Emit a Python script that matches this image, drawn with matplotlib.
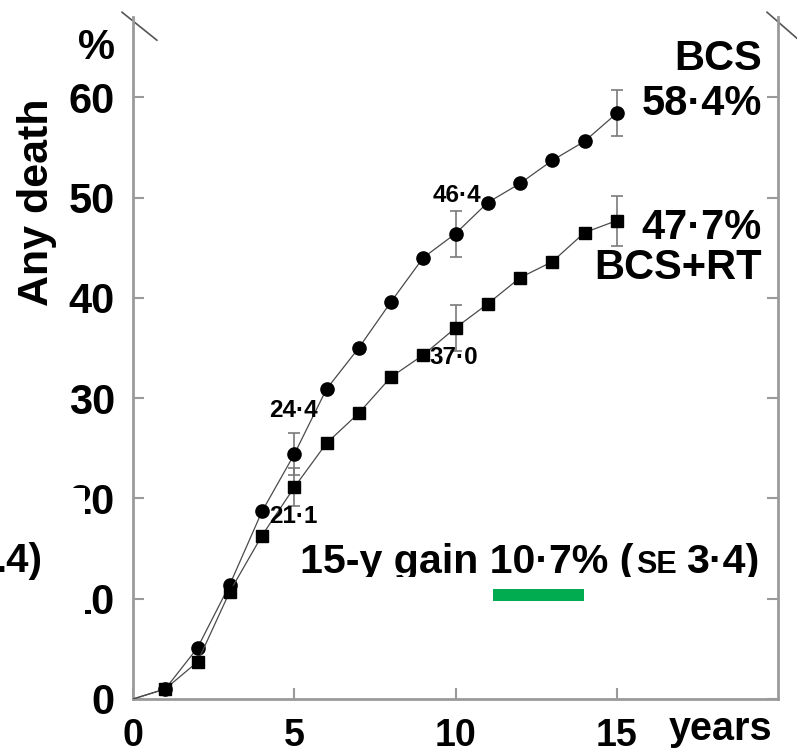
#!/usr/bin/env python3
"""Any death after BCS vs BCS+RT, 15-year curves."""

import matplotlib
matplotlib.use('Agg')
import matplotlib.pyplot as plt
from matplotlib.patches import Rectangle
from matplotlib.lines import Line2D

plt.rcParams['font.family'] = ['Liberation Sans', 'DejaVu Sans']
plt.rcParams['font.weight'] = 'bold'

# ---- data ----
years = [0, 1, 2, 3, 4, 5, 6, 7, 8, 9, 10, 11, 12, 13, 14, 15]
bcs = [0, 1.0, 5.1, 11.4, 18.7, 24.4, 30.9, 35.0, 39.6, 44.0, 46.4,
       49.5, 51.4, 53.7, 55.6, 58.4]
bcs_rt = [0, 1.0, 3.7, 10.7, 16.3, 21.1, 25.5, 28.5, 32.1, 34.3, 37.0,
          39.4, 42.0, 43.6, 46.5, 47.7]

err_years = [5, 10, 15]
bcs_err = [2.1, 2.3, 2.3]
bcs_rt_err = [1.9, 2.3, 2.5]
bcs_at = [bcs[years.index(y)] for y in err_years]
rt_at = [bcs_rt[years.index(y)] for y in err_years]

xticks = [0, 5, 10, 15]
yticks = [0, 10, 20, 30, 40, 50, 60]

linecol = '#4a4a4a'
errcol = '#7a7a7a'
spinecol = '#9a9a9a'

W, H = 797, 755
fig = plt.figure(figsize=(W / 100, H / 100), dpi=100)
ax = fig.add_axes([133 / W, 56 / H, 645 / W, 682 / H])
ax.set_xlim(0, 20)
ax.set_ylim(0, 68)

# curves
ax.plot(years, bcs, color=linecol, lw=0.9, marker='o', ms=9.5,
        mfc='black', mec='black', markevery=list(range(1, len(years))), zorder=3)
ax.plot(years, bcs_rt, color=linecol, lw=0.9, marker='s', ms=8.5,
        mfc='black', mec='black', markevery=list(range(1, len(years))), zorder=3)
ax.errorbar(err_years, bcs_at, yerr=bcs_err, fmt='none', ecolor=errcol,
            elinewidth=1.2, capsize=4, capthick=1.2, zorder=2)
ax.errorbar(err_years, rt_at, yerr=bcs_rt_err, fmt='none', ecolor=errcol,
            elinewidth=1.2, capsize=4, capthick=1.2, zorder=2)

# point labels
ax.text(10.8, 50.2, '46·4', fontsize=17.5, ha='right', va='center')
ax.text(9.2, 34.0, '37·0', fontsize=17.5, ha='left', va='center')
ax.text(4.22, 28.8, '24·4', fontsize=17.5, ha='left', va='center')
ax.text(4.22, 18.2, '21·1', fontsize=17.5, ha='left', va='center')

# end labels
ax.text(19.5, 63.8, 'BCS', fontsize=30, ha='right', va='center')
ax.text(19.5, 59.3, '58·4%', fontsize=30, ha='right', va='center')
ax.text(19.5, 47.0, '47·7%', fontsize=30, ha='right', va='center')
ax.text(19.5, 43.0, 'BCS+RT', fontsize=30, ha='right', va='center')

# spines and ticks
ax.spines['top'].set_visible(False)
for s in ['left', 'right', 'bottom']:
    ax.spines[s].set_color(spinecol)
    ax.spines[s].set_linewidth(2)
ax.set_xticks(xticks)
ax.set_yticks(yticks)
ax.tick_params(axis='y', direction='in', length=8, width=1.5, color=spinecol,
               labelsize=30, pad=13, right=True)
ax.tick_params(axis='x', direction='in', length=8, width=1.5, color=spinecol,
               labelsize=27, pad=14)
for lab in ax.get_xticklabels() + ax.get_yticklabels():
    lab.set_fontweight('bold')

ax.set_ylabel('Any death', fontsize=31, fontweight='bold')
ax.yaxis.set_label_coords(-0.118, 0.728)
ax.text(-0.55, 64.9, '%', fontsize=30, ha='right', va='center', clip_on=False)
ax.text(16.6, -4.1, 'years', fontsize=28.5, ha='left', va='baseline',
        clip_on=False)

# axis break marks
ax.add_line(Line2D([-0.017, 0.037], [1.007, 0.966], transform=ax.transAxes,
                   color='#555555', lw=1.2, clip_on=False))
ax.add_line(Line2D([0.983, 1.04], [1.007, 0.96], transform=ax.transAxes,
                   color='#555555', lw=1.2, clip_on=False))

# gain annotation, built from pieces so SE can be small caps
fig.canvas.draw()
rend = fig.canvas.get_renderer()
t1 = ax.text(5.17, 12.6, '15-y gain 10·7% (', fontsize=29.6, ha='left',
             va='baseline')
x_end = t1.get_window_extent(rend).x1
xd = ax.transData.inverted().transform((x_end + 3, 0))[0]
t2 = ax.text(xd, 12.6, 'SE', fontsize=22, ha='left', va='baseline')
x_end = t2.get_window_extent(rend).x1
xd = ax.transData.inverted().transform((x_end + 9, 0))[0]
ax.text(xd, 12.6, '3·4)', fontsize=29.6, ha='left', va='baseline')

# green highlight bar
ax.add_patch(Rectangle((11.16, 9.77), 2.82, 1.2, facecolor='#00ac4f',
                       edgecolor='none', zorder=4))

# white overlaps from the original composite
fig.add_artist(Rectangle((290 / W, (H - 588) / H), 480 / W, 11 / H,
                         transform=fig.transFigure, facecolor='white',
                         edgecolor='none', zorder=10))
fig.add_artist(Rectangle((0, (H - 625) / H), 85 / W, 137 / H,
                         transform=fig.transFigure, facecolor='white',
                         edgecolor='none', zorder=10))
fig.text(42 / W, (H - 572) / H, '.4)', fontsize=29, fontweight='bold',
         ha='right', va='baseline', zorder=11)

plt.savefig('out.png', dpi=100, facecolor='white')
print("Saved out.png")
